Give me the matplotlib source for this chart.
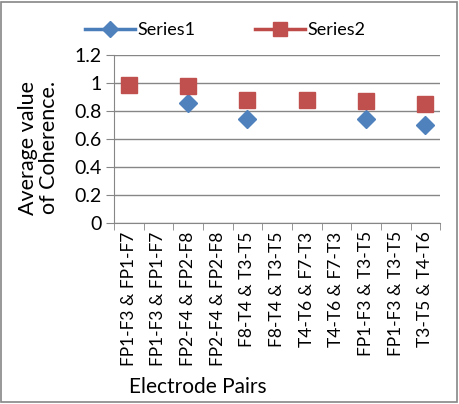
import matplotlib
matplotlib.use('Agg')
import matplotlib.pyplot as plt
from matplotlib.patches import Rectangle
import numpy as np

plt.rcParams.update({
    'font.family': ['Lato', 'DejaVu Sans'],
    'font.size': 13,
})

categories = ['FP1-F3 & FP1-F7', 'FP1-F3 & FP1-F7', 'FP2-F4 & FP2-F8', 'FP2-F4 & FP2-F8',
              'F8-T4 & T3-T5', 'F8-T4 & T3-T5', 'T4-T6 & F7-T3', 'T4-T6 & F7-T3',
              'FP1-F3 & T3-T5', 'FP1-F3 & T3-T5', 'T3-T5 & T4-T6']
series1 = [None, None, 0.86, None, 0.745, None, None, None, 0.745, None, 0.70]
series2 = [0.985, None, 0.975, None, 0.875, None, 0.875, None, 0.87, None, 0.85]
yticks = [0, 0.2, 0.4, 0.6, 0.8, 1, 1.2]

fig = plt.figure(figsize=(4.59, 4.04), dpi=100)
ax = fig.add_axes([0.248, 0.448, 0.711, 0.416])

x = np.arange(len(categories))
s1 = np.array([np.nan if v is None else v for v in series1])
s2 = np.array([np.nan if v is None else v for v in series2])

ax.plot(x, s1, linestyle='none', marker='D', markersize=9, color='#4f81bd',
        markeredgecolor='#4f81bd', zorder=3)
ax.plot(x, s2, linestyle='none', marker='s', markersize=11, color='#c0504d',
        markeredgecolor='#c0504d', zorder=4)

ax.set_xlim(-0.5, len(categories) - 0.5)
ax.set_ylim(0, 1.2)
ax.set_yticks(yticks)
ax.set_yticklabels(['0', '0.2', '0.4', '0.6', '0.8', '1', '1.2'], fontsize=14)
ax.set_xticks(x)
ax.set_xticklabels(categories, rotation=90, fontsize=12.5)
ax.set_xticks(np.arange(-0.5, len(categories), 1), minor=True)
ax.tick_params(axis='x', which='major', length=0, pad=6)
ax.tick_params(axis='x', which='minor', length=5, color='#868686', direction='out')
ax.tick_params(axis='y', length=6, color='#868686', direction='out', pad=3)

ax.grid(True, axis='y', color='#868686', linewidth=1)
ax.set_axisbelow(True)
ax.spines['top'].set_visible(False)
ax.spines['right'].set_visible(False)
ax.spines['left'].set_color('#868686')
ax.spines['bottom'].set_color('#868686')

fig.text(0.084, 0.634, 'Average value\nof Coherence.', rotation=90, ha='center', va='center',
         fontsize=15.5, linespacing=1.05, multialignment='center')
fig.text(0.43, 0.043, 'Electrode Pairs', ha='center', va='center', fontsize=15)

h1, = ax.plot([], [], color='#4a7ebb', linewidth=2.5, marker='D', markersize=8,
              markeredgecolor='#4f81bd', markerfacecolor='#4f81bd')
h2, = ax.plot([], [], color='#be4b48', linewidth=2.5, marker='s', markersize=10,
              markeredgecolor='#c0504d', markerfacecolor='#c0504d')
fig.legend([h1, h2], ['Series1', 'Series2'], loc='center', bbox_to_anchor=(0.49, 0.926),
           ncol=2, frameon=False, fontsize=13, handlelength=2.8, handletextpad=0.1,
           columnspacing=3.3)

fig.patches.append(Rectangle((0.003, 0.004), 0.992, 0.99, transform=fig.transFigure,
                             fill=False, edgecolor='#868686', linewidth=1.2))

fig.savefig('out.png', dpi=100)
